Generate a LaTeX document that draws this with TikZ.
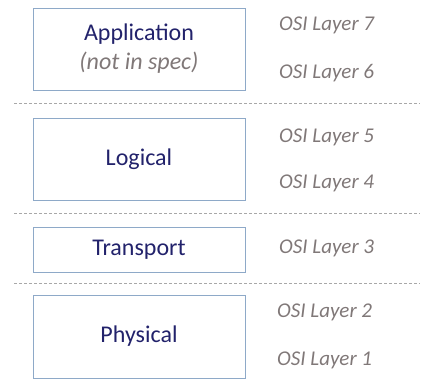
\documentclass[tikz,border=0pt]{standalone}
\usepackage{fontspec}
\setmainfont{Carlito}
\usetikzlibrary{positioning}
\definecolor{boxline}{HTML}{8EA9C8}
\definecolor{boxtext}{HTML}{22226B}
\definecolor{osigray}{HTML}{807878}
\definecolor{sepgray}{HTML}{A8A8A8}
\begin{document}
\begin{tikzpicture}[x=1pt,y=-1pt]
\tikzstyle{layer}=[rectangle, draw=boxline, thick, minimum width=212pt,
	inner sep=0pt, outer sep=0pt, text=boxtext, font=\fontsize{24}{29}\selectfont,
	align=center, anchor=north west,
]
\tikzstyle{osi}=[text=osigray, font=\fontsize{21}{25}\selectfont\itshape,
	anchor=west, inner sep=0pt,
]
\tikzstyle{sep}=[sepgray, dashed, dash pattern=on 3pt off 2pt]
\useasboundingbox (0,0) rectangle (422,380);
\node[layer,minimum height=82pt] (app) at (33,8) {Application\\{\color{osigray}\itshape (not in spec)}};
\node[layer,minimum height=82pt] (log) at (33,118) {Logical};
\node[layer,minimum height=45pt] (tra) at (33,227) {Transport};
\node[layer,minimum height=83pt] (phy) at (33,295) {Physical};
\node[osi] (l7) at (279,25) {OSI Layer 7};
\node[osi] (l6) at (279,73) {OSI Layer 6};
\node[osi] (l5) at (279,137) {OSI Layer 5};
\node[osi] (l4) at (279,183) {OSI Layer 4};
\node[osi] (l3) at (279,248) {OSI Layer 3};
\node[osi] (l2) at (277,312) {OSI Layer 2};
\node[osi] (l1) at (277,360) {OSI Layer 1};
\coordinate (s1a) at (14,103);
\coordinate (s1b) at (420,103);
\coordinate (s2a) at (14,213);
\coordinate (s2b) at (420,213);
\coordinate (s3a) at (14,283);
\coordinate (s3b) at (420,283);
\draw[sep] (s1a) -- (s1b);
\draw[sep] (s2a) -- (s2b);
\draw[sep] (s3a) -- (s3b);
\end{tikzpicture}
\end{document}
